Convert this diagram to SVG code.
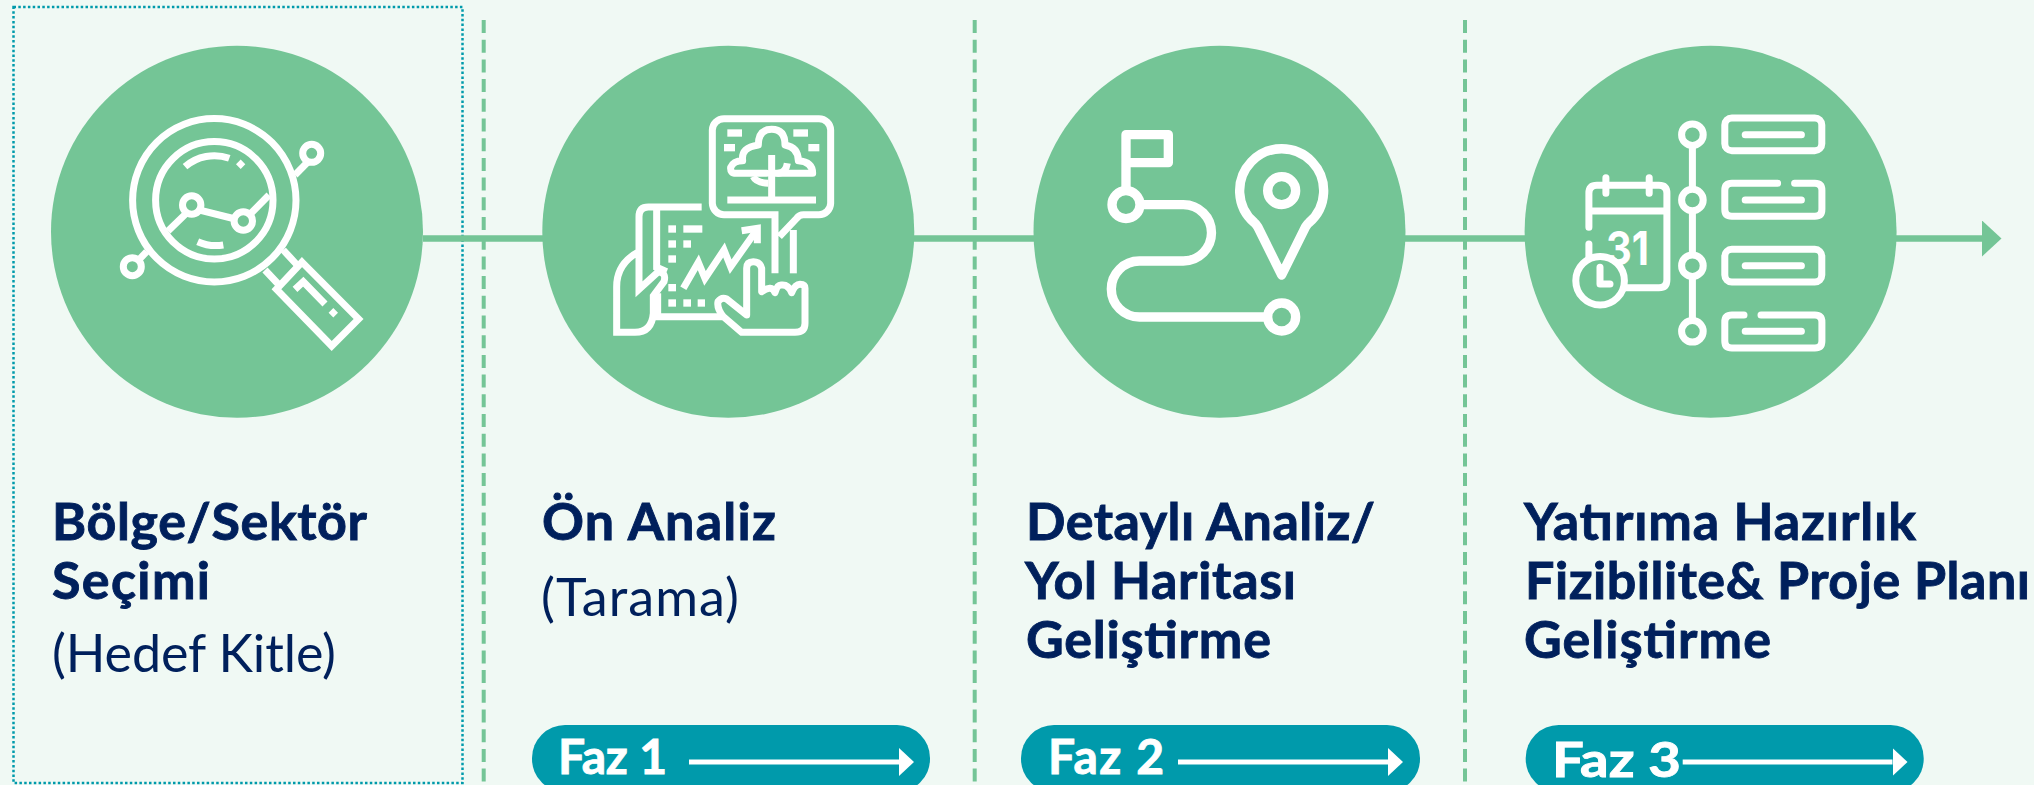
<svg xmlns="http://www.w3.org/2000/svg" width="2034" height="785" viewBox="0 0 2034 785">
<style>
.disc{fill:#74c596}
.ic{fill:none;stroke:#fff;stroke-linejoin:round;stroke-linecap:round}
.m{stroke-linejoin:miter;stroke-linecap:butt}
.sep{fill:none;stroke:#74c596;stroke-width:4;stroke-dasharray:13 6.7}
.h{font-family:"Lato","Liberation Sans",sans-serif;font-weight:700;font-size:52px;fill:#00205c;stroke:#00205c;stroke-width:.9}
.s{font-family:"Lato","Liberation Sans",sans-serif;font-weight:400;font-size:52px;fill:#00205c}
.pill{fill:#009aab}
.f{font-family:"Lato","Liberation Sans",sans-serif;font-weight:700;font-size:48px;fill:#fff;stroke:#fff;stroke-width:.9}
.pa{stroke:#fff;stroke-width:5;fill:none}
</style>
<defs>
<marker id="big" markerUnits="userSpaceOnUse" markerWidth="20" markerHeight="36" refX="0" refY="18" orient="auto"><path d="M0 0L19.5 18L0 36Z" fill="#74c596"/></marker>
<marker id="small" markerUnits="userSpaceOnUse" markerWidth="16" markerHeight="28" refX="0" refY="14" orient="auto"><path d="M0 0L15 14L0 28Z" fill="#fff"/></marker>
</defs>
<rect width="2034" height="785" fill="#f0f9f4"/>
<g id="separators">
<rect x="13.500" y="7" width="449" height="776" fill="none" stroke="#009aab" stroke-width="2.500" stroke-dasharray="2.500 2.300"/>
<path class="sep" d="M483.700 20V785"/>
<path class="sep" d="M974.700 20V785"/>
<path class="sep" d="M1465 20V785"/>
</g>
<g id="connectors">
<path d="M423 238.500H1982" stroke="#74c596" stroke-width="6.500" fill="none" marker-end="url(#big)"/>
</g>
<g id="node-bolge">
<circle class="disc" cx="237" cy="231.700" r="186"/>
<g class="ic m" stroke-width="7">
<circle cx="214.300" cy="200.300" r="81.700"/>
<circle cx="214.300" cy="200.300" r="58.700"/>
<path d="M168 231L191.700 208L243.300 221L269 195"/>
<path d="M185 166.700A44.600 44.600 0 0 1 229.300 158.300"/>
<path d="M197.700 241.700A45 45 0 0 0 223.300 245"/>
<path d="M295 175L311.700 158"/>
<path d="M132.300 266.700L146.700 251.700"/>
<path d="M265 270L280 286M283.300 250L298 266"/>
<path d="M302 262.100L358.600 319L331.700 346L276.400 289.300Z"/>
<path d="M295 289.300L303.300 281.700L325 304"/>
<circle cx="191.700" cy="205" r="9.200" fill="#74c596"/>
<circle cx="243.300" cy="221" r="9.200" fill="#74c596"/>
<circle cx="311.700" cy="153.300" r="9" fill="#74c596"/>
<circle cx="132.300" cy="266.700" r="9" fill="#74c596"/>
</g>
<path d="M240.700 159.500L245.300 164.300L240.700 169L236 164.300ZM333.300 308L338 312.700L333.300 317.500L328.600 312.700Z" fill="#fff"/>
</g>
<g id="node-on-analiz">
<circle class="disc" cx="728.300" cy="231.700" r="186"/>
<g transform="translate(520 30) scale(.33333)">
<g class="ic" stroke-width="21">
<path class="m" d="M765 730V554H612A35 35 0 0 1 577 520V300A35 35 0 0 1 612 266H897A35 35 0 0 1 932 300V520A35 35 0 0 1 897 554H850Q838 554 830 565L778 620"/>
<path class="m" d="M820 600V730"/>
<path class="m" d="M622 510H888M755 375V510M490 775L535 697L555 745L612 660L632 710L710 600"/>
<path class="m" d="M665 602L712 595V640"/>
<path class="m" d="M755 430H775Q798 428 802 400M745 460Q708 458 700 440"/>
<path d="M740 430H648Q630 430 632 412Q640 392 668 392Q662 352 715 345Q715 298 755 298Q795 298 795 345Q835 352 835 392Q878 395 878 430H775"/>
<path class="m" d="M545 531H385Q357 531 357 560V778L415 725Q440 728 432 755L400 798V850Q395 907 345 907H290V770Q290 700 357 665"/>
<path class="m" d="M410 540V712L440 725M413 790V860H610"/>
<path d="M610 860L665 907H825Q855 907 855 880V775Q855 763 840 763Q825 763 815 788Q805 763 785 765Q772 763 765 788Q755 763 725 785V715Q720 695 700 695Q680 695 680 715V855L620 807Q605 800 594 815Q590 835 610 860"/>
</g>
<g fill="#fff">
<rect x="622" y="298" width="44" height="22"/><rect x="820" y="298" width="44" height="22"/>
<rect x="612" y="342" width="33" height="22"/><rect x="865" y="342" width="33" height="22"/>
<rect x="445" y="586" width="23" height="22"/><rect x="490" y="586" width="57" height="22"/>
<rect x="445" y="631" width="23" height="22"/><rect x="490" y="631" width="23" height="22"/>
<rect x="445" y="676" width="23" height="22"/><rect x="445" y="762" width="23" height="22"/>
<rect x="445" y="808" width="23" height="22"/><rect x="490" y="808" width="23" height="22"/><rect x="533" y="808" width="22" height="22"/>
</g>
</g>
</g>
<g id="node-detayli">
<circle class="disc" cx="1219.500" cy="231.700" r="186"/>
<g class="ic" stroke-width="28" transform="translate(1020 30) scale(.33333)">
<path d="M318 475V314H445V398H318"/>
<circle cx="318" cy="524" r="42"/>
<path d="M370 524H490A84.500 84.500 0 0 1 490 693H358A84 84 0 0 0 358 861H730"/>
<circle cx="785" cy="861" r="42"/>
<circle cx="785" cy="482" r="42"/>
<path d="M785 735L713 590Q708 582 703 578A126 126 0 1 1 867 578Q862 582 857 590Z"/>
</g>
</g>
<g id="node-yatirima">
<circle class="disc" cx="1710.600" cy="231.700" r="186"/>
<text x="1606" y="265" font-family="Inter,'Liberation Sans',sans-serif" font-weight="700" font-size="47" fill="#fff" textLength="43" lengthAdjust="spacingAndGlyphs">31</text>
<g class="ic" stroke-width="7">
<path d="M1692.400 145V320"/>
<circle cx="1692.400" cy="134.700" r="10.800" fill="#74c596"/><circle cx="1692.400" cy="200" r="10.800" fill="#74c596"/><circle cx="1692.400" cy="265.700" r="10.800" fill="#74c596"/><circle cx="1692.400" cy="331.300" r="10.800" fill="#74c596"/>
<rect x="1724.800" y="118" width="97" height="32.700" rx="7"/>
<path d="M1777.600 183.300H1731.800Q1724.800 183.300 1724.800 190.300V209.300Q1724.800 216.300 1731.800 216.300H1814.900Q1821.900 216.300 1821.900 209.300V190.300Q1821.900 183.300 1814.900 183.300H1794.600"/>
<rect x="1724.800" y="249.300" width="97" height="32.700" rx="7"/>
<path d="M1744 315H1731.800Q1724.800 315 1724.800 322V341Q1724.800 348 1731.800 348H1814.900Q1821.900 348 1821.900 341V322Q1821.900 315 1814.900 315H1761"/>
<path d="M1745.200 134.700H1801.400M1745.200 200H1801.400M1745.200 265.700H1801.400M1745.200 331.300H1801.400"/>
<path d="M1588.900 227.300V193.300Q1588.900 185.300 1596.900 185.300H1658.900Q1666.900 185.300 1666.900 193.300V279.700Q1666.900 287.700 1658.900 287.700H1624M1588.900 211H1666.900M1605.900 177.700V193.300M1649.200 177.700V193.300M1588.900 244V256.700"/>
<circle cx="1600.100" cy="280.700" r="24.300" fill="#74c596"/>
<path d="M1600 267.300V284H1610"/>
</g>
</g>
<g id="labels">
<text class="h" x="52" y="540" textLength="315" lengthAdjust="spacing">Bölge/Sektör</text>
<text class="h" x="52" y="599" textLength="158" lengthAdjust="spacing">Seçimi</text>
<text class="s" x="52" y="672" textLength="284" lengthAdjust="spacing">(Hedef Kitle)</text>
<text class="h" x="542" y="540" textLength="234" lengthAdjust="spacing">Ön Analiz</text>
<text class="s" x="541" y="616" textLength="198" lengthAdjust="spacing">(Tarama)</text>
<text class="h" x="1026" y="540" textLength="349" lengthAdjust="spacing">Detaylı Analiz/</text>
<text class="h" x="1025" y="599" textLength="271" lengthAdjust="spacing">Yol Haritası</text>
<text class="h" x="1026" y="658" textLength="245" lengthAdjust="spacing">Geliştirme</text>
<text class="h" x="1524" y="540" textLength="392" lengthAdjust="spacing">Yatırıma Hazırlık</text>
<text class="h" x="1525" y="599" textLength="505" lengthAdjust="spacing">Fizibilite&amp; Proje Planı</text>
<text class="h" x="1524" y="658" textLength="247" lengthAdjust="spacing">Geliştirme</text>
</g>
<g id="faz-1">
<rect class="pill" x="532" y="725" width="398" height="67" rx="33"/>
<text class="f" x="558" y="774" textLength="109" lengthAdjust="spacing">Faz 1</text>
<path class="pa" d="M689 762H899" marker-end="url(#small)"/>
</g>
<g id="faz-2">
<rect class="pill" x="1021" y="725" width="399" height="67" rx="33"/>
<text class="f" x="1048" y="774" textLength="116" lengthAdjust="spacing">Faz 2</text>
<path class="pa" d="M1178 762H1388" marker-end="url(#small)"/>
</g>
<g id="faz-3">
<rect class="pill" x="1525.700" y="725" width="398" height="67" rx="33"/>
<text class="f" x="1552" y="777" font-size="50" textLength="129" lengthAdjust="spacingAndGlyphs">Faz 3</text>
<path class="pa" d="M1682.700 762H1892.500" marker-end="url(#small)"/>
</g>
</svg>
